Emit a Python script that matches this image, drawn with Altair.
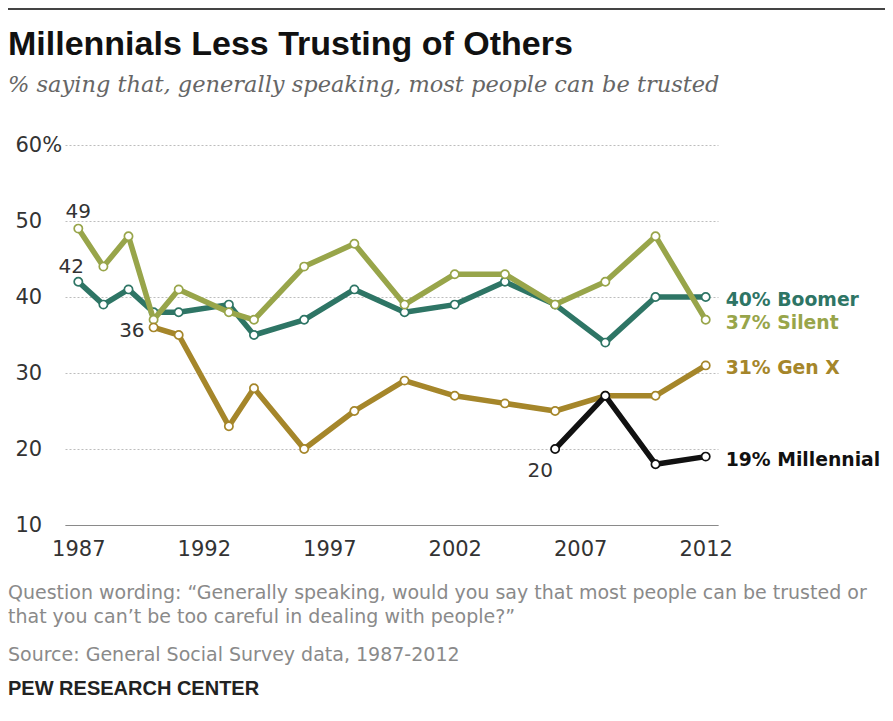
import altair as alt
import pandas as pd

# ---- data ----
years_all = [1987, 1988, 1989, 1990, 1991, 1993, 1994, 1996, 1998, 2000, 2002, 2004, 2006, 2008, 2010, 2012]
boomer = [42, 39, 41, 38, 38, 39, 35, 37, 41, 38, 39, 42, 39, 34, 40, 40]
silent = [49, 44, 48, 37, 41, 38, 37, 44, 47, 39, 43, 43, 39, 42, 48, 37]
years_genx = [1990, 1991, 1993, 1994, 1996, 1998, 2000, 2002, 2004, 2006, 2008, 2010, 2012]
genx = [36, 35, 23, 28, 20, 25, 29, 27, 26, 25, 27, 27, 31]
years_mill = [2006, 2008, 2010, 2012]
millennial = [20, 27, 18, 19]

series_names = ["Boomer", "Silent", "Gen X", "Millennial"]
series_colors = ["#2e7565", "#98a54a", "#a5862a", "#111111"]
x_ticks = [1987, 1992, 1997, 2002, 2007, 2012]
y_ticks = [10, 20, 30, 40, 50, 60]

title_text = "Millennials Less Trusting of Others"
subtitle_text = "% saying that, generally speaking, most people can be trusted"
note_lines = [
    "Question wording: \u201cGenerally speaking, would you say that most people can be trusted or",
    "that you can\u2019t be too careful in dealing with people?\u201d",
]
source_text = "Source: General Social Survey data, 1987-2012"
credit_text = "PEW RESEARCH CENTER"

rows = []
for name, yrs, vals in [("Boomer", years_all, boomer), ("Silent", years_all, silent),
                        ("Gen X", years_genx, genx), ("Millennial", years_mill, millennial)]:
    for y, v in zip(yrs, vals):
        rows.append({"series": name, "year": y, "value": v})
df = pd.DataFrame(rows)

W, H = 653, 380
xscale = alt.Scale(domain=[1986.47, 2012.49], nice=False, zero=False)
yscale = alt.Scale(domain=[10, 60], nice=False, zero=False)
color_scale = alt.Scale(domain=series_names, range=series_colors)

xenc = alt.X("year:Q", scale=xscale, axis=alt.Axis(
    values=x_ticks, format="d", title=None, grid=False, ticks=False,
    domain=True, domainColor="#8a8a8a", domainWidth=1.2,
    labelFont="DejaVu Sans", labelFontSize=21, labelColor="#333333",
    labelPadding=13, labelFlush=False))
yenc = alt.Y("value:Q", scale=yscale, axis=alt.Axis(
    values=y_ticks, title=None, ticks=False, domain=False,
    grid=True, gridColor="#bdbdbd", gridDash=[2, 2], gridWidth=1,
    labelAlign="left", labelPadding=50, labelBaseline="middle",
    labelExpr="datum.value == 60 ? '60%' : datum.label",
    labelFont="DejaVu Sans", labelFontSize=21, labelColor="#333333"))

base = alt.Chart(df)

layers = []
# axes carrier
layers.append(base.mark_point(opacity=0).encode(x=xenc, y=yenc))

for name, col in zip(series_names, series_colors):
    s = base.transform_filter(alt.datum.series == name)
    layers.append(s.mark_line(color=col, strokeWidth=5.5, strokeJoin="round").encode(
        x=alt.X("year:Q", scale=xscale), y=alt.Y("value:Q", scale=yscale)))
    layers.append(s.mark_point(shape="circle", filled=True, fill="white", stroke=col,
                               strokeWidth=1.7, size=68, opacity=1).encode(
        x=alt.X("year:Q", scale=xscale), y=alt.Y("value:Q", scale=yscale)))

# end labels
last = df.sort_values("year").groupby("series", as_index=False).last()
last["label"] = last["value"].astype(str) + "% " + last["series"]
end_labels = alt.Chart(last).mark_text(align="left", baseline="middle", dx=20, dy=3,
                                       font="DejaVu Sans", fontSize=18.8, fontWeight="bold").encode(
    x=alt.X("year:Q", scale=xscale), y=alt.Y("value:Q", scale=yscale), text="label:N",
    color=alt.Color("series:N", scale=color_scale, legend=None))
layers.append(end_labels)

# first-point annotations
first = df.sort_values("year").groupby("series", as_index=False).first()
first["txt"] = first["value"].astype(str)
ann_style = dict(font="DejaVu Sans", fontSize=20, color="#333333")
offsets = {"Silent": (0, -17, "center"), "Boomer": (-7, -15, "center"),
           "Gen X": (-9, 4, "right"), "Millennial": (-15, 22, "center")}
for name, (dx, dy, al) in offsets.items():
    layers.append(alt.Chart(first).transform_filter(alt.datum.series == name).mark_text(
        align=al, baseline="middle", dx=dx, dy=dy, **ann_style).encode(
        x=alt.X("year:Q", scale=xscale), y=alt.Y("value:Q", scale=yscale), text="txt:N"))

# header / footer text
one = pd.DataFrame({"a": [0]})
tx = alt.Chart(one)
layers.append(tx.mark_rule(color="#444444", strokeWidth=2).encode(
    x=alt.value(-57), x2=alt.value(820), y=alt.value(-136)))
layers.append(tx.mark_text(align="left", baseline="middle", font="Liberation Sans",
                           fontWeight="bold", fontSize=34, color="#111111").encode(
    x=alt.value(-57), y=alt.value(-100), text=alt.value(title_text)))
layers.append(tx.mark_text(align="left", baseline="middle", font="DejaVu Serif",
                           fontStyle="italic", fontSize=22.5, color="#666666").encode(
    x=alt.value(-57), y=alt.value(-60), text=alt.value(subtitle_text)))
for i, line in enumerate(note_lines):
    layers.append(tx.mark_text(align="left", baseline="middle", font="DejaVu Sans",
                               fontSize=19, color="#8a8a8a").encode(
        x=alt.value(-57), y=alt.value(448 + 24 * i), text=alt.value(line)))
layers.append(tx.mark_text(align="left", baseline="middle", font="DejaVu Sans",
                           fontSize=19, color="#8a8a8a").encode(
    x=alt.value(-57), y=alt.value(510), text=alt.value(source_text)))
layers.append(tx.mark_text(align="left", baseline="middle", font="Liberation Sans",
                           fontWeight="bold", fontSize=20, color="#222222").encode(
    x=alt.value(-57), y=alt.value(544), text=alt.value(credit_text)))

chart = alt.layer(*layers).properties(
    width=W, height=H,
    autosize=alt.AutoSizeParams(type="none"),
    padding={"left": 57, "top": 137, "right": 167, "bottom": 180},
).configure_view(stroke=None)

chart.save("out.html", embed_options={"renderer": "svg", "actions": False})
